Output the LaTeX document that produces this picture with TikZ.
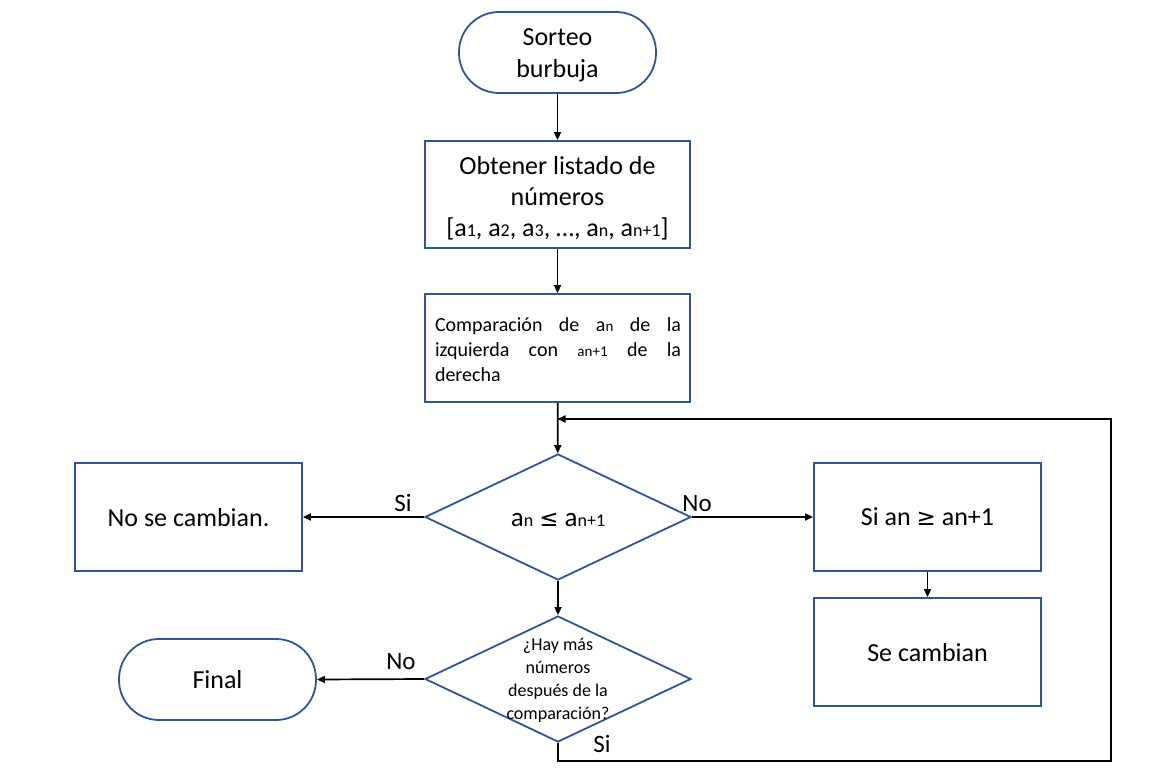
\documentclass[tikz,border=0pt]{standalone}
\usepackage{fontspec}
\setmainfont{Carlito}
\newfontfamily\symfont{DejaVu Sans}
\usetikzlibrary{shapes.geometric,arrows.meta}
\definecolor{bord}{HTML}{2F5597}
\newcommand{\subsm}[1]{{\fontsize{18}{18}\selectfont #1}}
\newcommand{\subxs}[1]{{\fontsize{15}{15}\selectfont #1}}
\newcommand{\bigsym}[1]{{\symfont\fontsize{23}{23}\selectfont #1}}
\begin{document}
\begin{tikzpicture}[x=1pt,y=-1pt,
  box/.style={draw=bord,line width=1.8pt,rectangle,inner sep=0pt},
  term/.style={draw=bord,line width=1.8pt,rectangle,rounded corners=40pt,inner sep=0pt,
    minimum width=197pt,minimum height=81pt,align=center,font=\fontsize{26}{32}\selectfont},
  dia/.style={draw=bord,line width=1.8pt,diamond,inner sep=0pt,minimum width=266pt,minimum height=126pt},
  conn/.style={line width=1.7pt,-{Triangle[length=8pt,width=7pt]}},
  lbl/.style={font=\fontsize{25}{25}\selectfont,inner sep=0pt},
  big/.style={font=\fontsize{26}{31}\selectfont,align=center}]
\useasboundingbox (0,0) rectangle (1150,776);
\node[term] (start) at (557.5,52.5) {};
\node[term,draw=none] (t0) at (557.5,55) {Sorteo\\burbuja};
\node[box,minimum width=265pt,minimum height=107pt] (b1) at (557.5,194.5) {};
\node[big] (t1) at (557.5,198)
  {Obtener listado de\\números\\{}[a\subsm{1}, a\subsm{2}, a\subsm{3}, …, a\subsm{n}, a\subsm{n+1}]};
\node[box,minimum width=265pt,minimum height=108pt] (b2) at (557.5,348) {};
\node[font=\fontsize{20}{25}\selectfont,text width=246pt,align=justify,inner sep=0pt] (t2) at (558,350)
  {Comparación de a\subxs{n} de la\linebreak izquierda con \subxs{an+1} de la\linebreak derecha};
\node[dia] (d1) at (558,517) {};
\node[font=\fontsize{27}{27}\selectfont] (t3) at (558,520) {a\subsm{n} \bigsym{≤} a\subsm{n+1}};
\node[dia] (d2) at (558,679) {};
\node[font=\fontsize{18}{23}\selectfont,align=center] (t4) at (558,680)
  {¿Hay más\\números\\después de la\\comparación?};
\node[box,minimum width=227pt,minimum height=108pt] (nl) at (188.5,517) {};
\node[big] (tnl) at (188.5,518) {No se cambian.};
\node[term] (fin) at (217.5,679.5) {Final};
\node[box,minimum width=227pt,minimum height=108pt,big] (r1) at (927.5,517) {Si an \bigsym{≥} an+1};
\node[box,minimum width=227pt,minimum height=108pt] (r2) at (927.5,652) {};
\node[big] (tr2) at (927.5,653) {Se cambian};
\coordinate (join) at (557.5,419);
\coordinate (loopT) at (1111,419);
\coordinate (loopB) at (1111,761);
\draw[conn] (start) -- (b1);
\draw[conn] (b1) -- (b2);
\draw[conn] (b2) -- (d1);
\draw[conn] (d1.west) -- (nl.east);
\draw[conn] (d1.east) -- (r1.west);
\draw[conn] (r1) -- (r2);
\draw[conn] (d1.south) -- (d2.north);
\draw[conn] (d2.west) -- (fin.east);
\draw[conn] (d2.south) |- (loopB) -- (loopT) -- (join);
\node[lbl] (s1) at (403,503) {Si};
\node[lbl] (n1) at (697,504) {No};
\node[lbl] (n2) at (401,662) {No};
\node[lbl] (s2) at (602,744) {Si};
\end{tikzpicture}
\end{document}
